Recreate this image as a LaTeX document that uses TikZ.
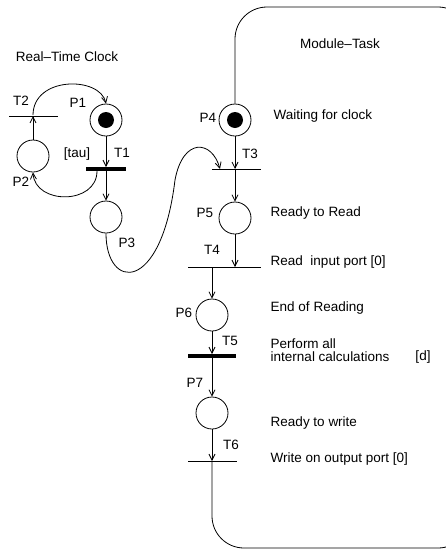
\documentclass[tikz,border=0pt]{standalone}
\usepackage{fontspec}
\setmainfont{Liberation Sans}
\usepackage{tikz}
\usetikzlibrary{arrows.meta,calc,positioning}
\definecolor{ink}{HTML}{000000}

\begin{document}
\begin{tikzpicture}[x=1pt,y=-1pt,line width=0.8pt,ink,
  font=\fontsize{13.5}{13.5}\selectfont,
  place/.style={circle,draw,minimum size=32pt,inner sep=0pt},
  token/.style={circle,fill,minimum size=16pt,inner sep=0pt},
  trans/.style={rectangle,fill,minimum height=0.8pt,inner sep=0pt,minimum width=#1},
  tbar/.style={rectangle,fill,minimum height=3.2pt,inner sep=0pt,minimum width=#1},
  arr/.style={-{Straight Barb[length=6pt,width=6pt]}}]
  \useasboundingbox (0,0) rectangle (446,552);
  \clip (0,0) rectangle (446,552);
  % places
  \node[place] (P1) at (106,120) {};
  \node[token] (tok1) at (P1) {};
  \node[place] (P2) at (33,156) {};
  \node[place] (P3) at (106,217) {};
  \node[place] (P4) at (235,120) {};
  \node[token] (tok4) at (P4) {};
  \node[place] (P5) at (235,218) {};
  \node[place] (P6) at (212,315) {};
  \node[place] (P7) at (212,413) {};
  % transitions
  \node[tbar=40pt] (T1) at (106,169) {};
  \node[trans=49pt] (T2) at (33,116) {};
  \node[trans=49pt] (T3) at (236,169) {};
  \node[trans=73pt] (T4) at (224.5,267) {};
  \node[tbar=48pt] (T5) at (212,356) {};
  \node[trans=49pt] (T6) at (212,461) {};
  % clock
  \draw[arr] (P1) -- (P1 |- T1.north);
  \draw[arr] (T1) -- (P3);
  \draw[arr] ([xshift=-9pt]T1.south) .. controls (97,205) and (35,205) .. (P2.south);
  \draw[arr] (P2) -- (T2.center);
  \draw[arr] (T2.north) .. controls (33,76) and (100,76) .. (P1.north);
  \draw[arr] (P3.south) .. controls (106,290) and (161,295) .. (175,180)
    .. controls (183,137) and (212,140) .. ([xshift=-16pt]T3.center);
  % task
  \draw[arr] (P4) -- (P4 |- T3.center);
  \draw[arr] (P4 |- T3.center) -- (P5);
  \draw[arr] (P5) -- (P5 |- T4.center);
  \draw[arr] (P6 |- T4.center) -- (P6);
  \draw[arr] (P6) -- (T5);
  \draw[arr] (T5) -- (P7);
  \draw[arr] (P7) -- (T6.center);
  \draw[rounded corners=32pt] (T6.center) -- (212,548) -- (470,548) -- (470,7)
    -- (235,7) -- (P4);
  % labels
  \node (clk) at (67,57) {Real–Time Clock};
  \node (mod) at (340,44) {Module–Task};
  \node (lP1) at (78,103) {P1};
  \node (lP2) at (21,182) {P2};
  \node (lT2) at (21,101) {T2};
  \node (ltau) at (77,154) {[tau]};
  \node (lT1) at (122,153) {T1};
  \node (lP3) at (127,243) {P3};
  \node (lP4) at (208,118) {P4};
  \node (lT3) at (250,154) {T3};
  \node (lP5) at (205,213) {P5};
  \node (lT4) at (212,250) {T4};
  \node (lP6) at (184,313) {P6};
  \node (lT5) at (230,341) {T5};
  \node (lP7) at (195,383) {P7};
  \node (lT6) at (231,445) {T6};
  \node[anchor=west] (d4) at (270,116) {Waiting for clock};
  \node[anchor=west] (d5) at (267,213) {Ready to Read};
  \node[anchor=west] (d5b) at (267,262) {Read\ \ input port [0]};
  \node[anchor=west] (d6) at (267,308) {End of Reading};
  \node[anchor=west,align=left] (d6b) at (267,350) {Perform all\\internal calculations};
  \node (dd) at (423,357) {[d]};
  \node[anchor=west] (d7) at (267,423) {Ready to write};
  \node[anchor=west] (d7b) at (267,459) {Write on output port [0]};
\end{tikzpicture}
\end{document}
